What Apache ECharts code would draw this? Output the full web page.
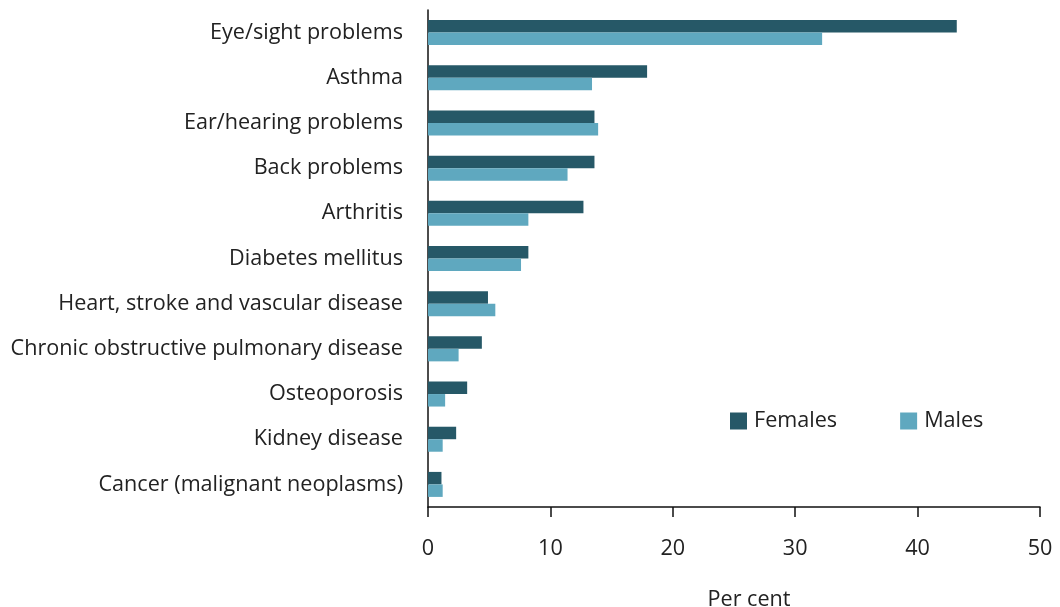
<!DOCTYPE html>
<html>
<head>
<meta charset="utf-8">
<script src="https://cdn.jsdelivr.net/npm/echarts@6/dist/echarts.min.js"></script>
<style>
  html, body { margin: 0; padding: 0; background: #fff; }
  #chart { width: 1060px; height: 607px; }
</style>
</head>
<body>
<div id="chart"></div>
<script>
// Long-term conditions, per cent of people, by sex
const conditions = [
  'Eye/sight problems',
  'Asthma',
  'Ear/hearing problems',
  'Back problems',
  'Arthritis',
  'Diabetes mellitus',
  'Heart, stroke and vascular disease',
  'Chronic obstructive pulmonary disease',
  'Osteoporosis',
  'Kidney disease',
  'Cancer (malignant neoplasms)'
];
const females = [43.2, 17.9, 13.6, 13.6, 12.7, 8.2, 4.9, 4.4, 3.2, 2.3, 1.1];
const males   = [32.2, 13.4, 13.9, 11.4, 8.2, 7.6, 5.5, 2.5, 1.4, 1.2, 1.2];
const xTicks = [0, 10, 20, 30, 40, 50];

const font = '"Open Sans", "Noto Sans", sans-serif';
const fs = 21.6;
const chart = echarts.init(document.getElementById('chart'), null, { renderer: 'canvas' });

chart.setOption({
  animation: false,
  textStyle: { fontFamily: font },
  grid: { left: 428, right: 20, top: 10, bottom: 100, containLabel: false, outerBoundsMode: 'none' },
  legend: {
    data: ['Females', 'Males'],
    left: 730, top: 410, padding: 0,
    itemWidth: 17, itemHeight: 17, itemGap: 63,
    icon: 'rect',
    textStyle: { fontFamily: font, fontSize: fs, color: '#222', padding: [0, 0, 0, 2] }
  },
  xAxis: {
    type: 'value',
    min: xTicks[0], max: xTicks[xTicks.length - 1], interval: 10,
    name: 'Per cent', nameLocation: 'middle', nameGap: 82,
    nameTextStyle: { fontFamily: font, fontSize: fs, color: '#222', padding: [0, 0, 0, 30] },
    axisLine: { show: true, lineStyle: { color: '#111', width: 1.5 } },
    axisTick: { show: true, length: 10, lineStyle: { color: '#111', width: 1.5 } },
    axisLabel: { fontFamily: font, fontSize: fs, color: '#222', margin: 31 },
    splitLine: { show: false }
  },
  yAxis: {
    type: 'category', data: conditions, inverse: true,
    axisLine: { show: true, lineStyle: { color: '#111', width: 1.5 } },
    axisTick: { show: false },
    axisLabel: { fontFamily: font, fontSize: fs, color: '#222', margin: 25 }
  },
  series: [
    { name: 'Females', type: 'bar', data: females, barWidth: 12.5, barGap: '0%',
      itemStyle: { color: '#265867' } },
    { name: 'Males', type: 'bar', data: males, barWidth: 12.5, barGap: '0%',
      itemStyle: { color: '#5fa8bf' } }
  ]
});
</script>
</body>
</html>
